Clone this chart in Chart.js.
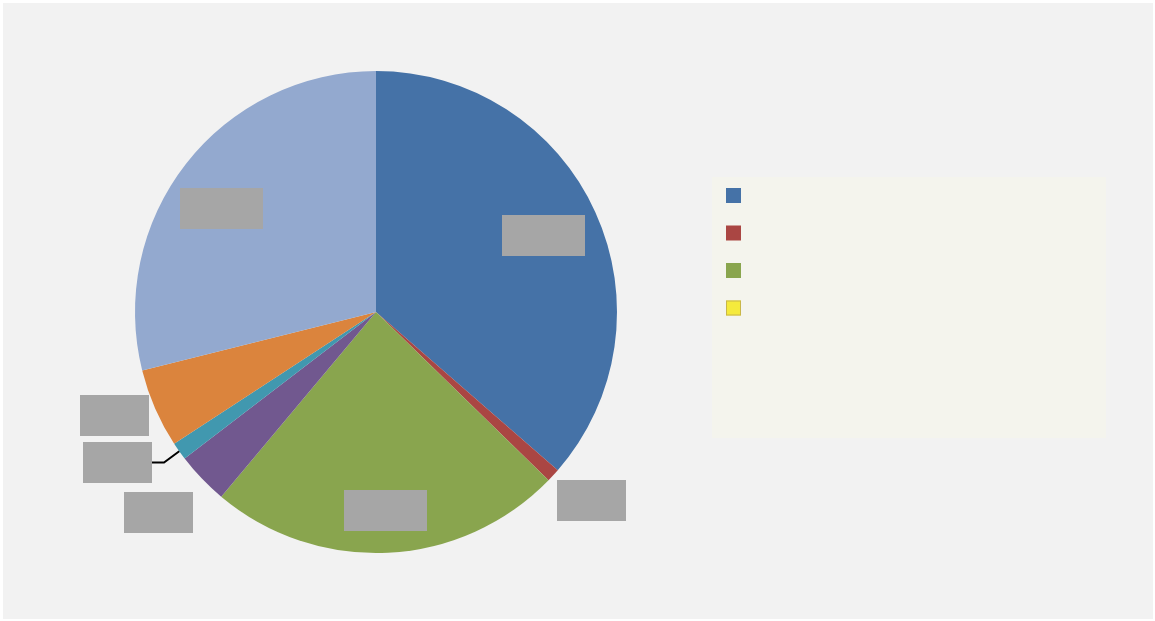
<!DOCTYPE html>
<html lang="en">
<head>
    <meta charset="UTF-8">
    <title>Pie chart</title>
    <script src="https://cdn.jsdelivr.net/npm/chart.js"></script>
    <style>
        body {
            margin: 0;
            background-color: #ffffff;
        }
    </style>
</head>
<body>
    <canvas id="pieChart" width="1155" height="621"></canvas>

    <script>
        // slice data (the 4th one is empty, it only shows up in the legend)
        const categories = ['A', 'B', 'C', 'D', 'E', 'F', 'G', 'H'];
        const shares = [36.4, 0.9, 23.8, 0, 3.5, 1.2, 5.3, 28.9];
        const colors = ['#4572a7', '#aa4643', '#89a54e', '#f5ea3c', '#71588f', '#4198af', '#db843d', '#93a9cf'];
        const legendCount = 4;

        // where the label boxes sit: distance from center and a small turn (deg)
        const labelDist = [184, 286, 199, 0, 296, 299, 281, 186];
        const labelTurn = [0, -1.5, 0, 0, 1, 5, 2, -4];

        const backgroundPlugin = {
            id: 'bg',
            beforeDraw(chart) {
                const c = chart.ctx;
                c.save();
                c.fillStyle = '#ffffff';
                c.fillRect(0, 0, chart.width, chart.height);
                c.fillStyle = '#f2f2f2';
                c.fillRect(3, 3, chart.width - 5, chart.height - 5);
                c.restore();
            }
        };

        // gray label boxes + leader lines
        const labelBoxes = {
            id: 'labelBoxes',
            afterDatasetsDraw(chart) {
                const c = chart.ctx;
                const arcs = chart.getDatasetMeta(0).data;
                c.save();
                arcs.forEach((arc, i) => {
                    if (!shares[i]) return;
                    const p = arc.getProps(['x', 'y', 'startAngle', 'endAngle', 'outerRadius'], true);
                    const mid = (p.startAngle + p.endAngle) / 2;
                    const a = mid + labelTurn[i] * Math.PI / 180;
                    const cx = p.x + labelDist[i] * Math.cos(a);
                    const cy = p.y + labelDist[i] * Math.sin(a);
                    const w = shares[i] >= 10 ? 83 : 69;
                    const h = 41;
                    const bx = Math.round(cx - w / 2), by = Math.round(cy - h / 2);
                    c.fillStyle = '#a6a6a6';
                    c.fillRect(bx, by, w, h);

                    // leader line when the box is far from its slice
                    if (labelDist[i] > p.outerRadius) {
                        const ex = p.x + p.outerRadius * Math.cos(mid);
                        const ey = p.y + p.outerRadius * Math.sin(mid);
                        const sx = ex > cx ? bx + w : bx;
                        const sy = by + h / 2;
                        if (Math.abs(ex - sx) > 15 && Math.abs(ey - sy) > 8) {
                            c.strokeStyle = '#000000';
                            c.lineWidth = 2;
                            c.beginPath();
                            c.moveTo(sx, sy);
                            c.lineTo(sx + (ex > sx ? 12 : -12), sy);
                            c.lineTo(ex, ey);
                            c.stroke();
                        }
                    }
                });
                c.restore();
            }
        };

        // legend panel on the right
        const legendPanel = {
            id: 'legendPanel',
            afterDraw(chart) {
                const c = chart.ctx;
                c.save();
                c.fillStyle = '#f4f4ed';
                c.fillRect(712, 177, 394, 261);
                for (let i = 0; i < legendCount; i++) {
                    const y = 188 + i * 37.5;
                    c.fillStyle = colors[i];
                    c.fillRect(726, y, 15, 15);
                    if (i === 3) {
                        c.strokeStyle = '#c8b64a';
                        c.lineWidth = 1;
                        c.strokeRect(726.5, y + 0.5, 14, 14);
                    }
                }
                c.restore();
            }
        };

        const ctx = document.getElementById('pieChart').getContext('2d');
        new Chart(ctx, {
            type: 'pie',
            data: {
                labels: categories,
                datasets: [{
                    data: shares,
                    backgroundColor: colors,
                    borderWidth: 0
                }]
            },
            options: {
                responsive: false,
                animation: false,
                layout: {
                    padding: { left: 135, top: 71, right: 538, bottom: 68 }
                },
                plugins: {
                    legend: { display: false },
                    tooltip: { enabled: false }
                }
            },
            plugins: [backgroundPlugin, labelBoxes, legendPanel]
        });
    </script>
</body>
</html>
